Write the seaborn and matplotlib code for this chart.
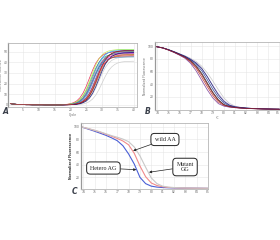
import matplotlib
matplotlib.use("Agg")
import matplotlib.pyplot as plt
import seaborn as sns
import numpy as np

sns.set_theme(style="whitegrid")
plt.rcParams['font.family'] = ['DejaVu Sans']

# ---------------- Panel A: amplification curves ----------------
cycles_base = list(range(1, 18))
baseline = [1.2, 0.8, 0.5, 0.4, 0.3, 0.2, 0.2, 0.1, 0.1, 0.1, 0.1, 0.0, 0.0, 0.0, 0.0, 0.0, 0.0]
cycles_rise = list(range(18, 41))
amp_curves = [
    [0.3, 0.6, 1.2, 2.1, 3.8, 6.7, 11.2, 17.5, 25.0, 32.6, 38.9, 43.4, 46.2, 47.9, 48.9, 49.4, 49.7, 49.8, 49.9, 50.0, 50.0, 50.0, 50.0],
    [0.2, 0.4, 0.8, 1.5, 2.7, 4.8, 8.3, 13.5, 20.3, 27.7, 34.5, 39.7, 43.2, 45.3, 46.5, 47.2, 47.6, 47.8, 47.9, 47.9, 48.0, 48.0, 48.0],
    [0.2, 0.3, 0.6, 1.2, 2.1, 3.9, 6.8, 11.4, 17.8, 25.5, 33.2, 39.6, 44.2, 47.1, 48.9, 49.8, 50.4, 50.6, 50.8, 50.9, 50.9, 51.0, 51.0],
    [0.2, 0.3, 0.6, 1.1, 2.0, 3.6, 6.3, 10.5, 16.4, 23.5, 30.6, 36.5, 40.7, 43.4, 45.0, 45.9, 46.4, 46.7, 46.8, 46.9, 47.0, 47.0, 47.0],
    [0.1, 0.2, 0.4, 0.8, 1.5, 2.8, 4.9, 8.5, 13.8, 20.7, 28.3, 35.2, 40.5, 44.1, 46.2, 47.5, 48.2, 48.6, 48.8, 48.9, 48.9, 49.0, 49.0],
    [0.1, 0.3, 0.5, 0.9, 1.6, 2.9, 5.2, 9.0, 14.6, 22.0, 30.0, 37.4, 43.0, 46.8, 49.1, 50.4, 51.1, 51.5, 51.7, 51.9, 51.9, 52.0, 52.0],
    [0.1, 0.2, 0.3, 0.6, 1.1, 2.0, 3.6, 6.4, 10.7, 16.8, 24.0, 31.2, 37.3, 41.6, 44.4, 46.0, 46.9, 47.4, 47.7, 47.8, 47.9, 48.0, 48.0],
    [0.1, 0.2, 0.3, 0.6, 1.2, 2.1, 3.8, 6.7, 11.2, 17.5, 25.0, 32.6, 38.9, 43.4, 46.2, 47.9, 48.9, 49.4, 49.7, 49.8, 49.9, 50.0, 50.0],
    [0.1, 0.1, 0.2, 0.4, 0.8, 1.5, 2.7, 4.7, 8.1, 13.2, 19.9, 27.1, 33.8, 38.9, 42.3, 44.3, 45.5, 46.2, 46.6, 46.8, 46.9, 46.9, 47.0],
    [0.1, 0.1, 0.2, 0.5, 0.9, 1.6, 2.9, 5.1, 8.8, 14.4, 21.5, 29.5, 36.6, 42.2, 45.9, 48.1, 49.4, 50.1, 50.5, 50.8, 50.9, 50.9, 50.9],
    [0.0, 0.1, 0.2, 0.3, 0.6, 1.1, 2.1, 3.7, 6.5, 10.9, 17.1, 24.5, 31.9, 38.1, 42.5, 45.3, 46.9, 47.9, 48.4, 48.7, 48.8, 48.9, 49.0],
    [0.3, 0.5, 0.9, 1.6, 2.9, 5.2, 9.0, 14.6, 22.0, 30.0, 37.4, 43.0, 46.8, 49.1, 50.4, 51.1, 51.5, 51.7, 51.9, 51.9, 52.0, 52.0, 52.0],
    [0.2, 0.3, 0.6, 1.0, 1.9, 3.4, 6.0, 10.0, 15.7, 22.5, 29.3, 35.0, 39.0, 41.6, 43.1, 44.0, 44.5, 44.7, 44.8, 44.9, 45.0, 45.0, 45.0],
    [0.1, 0.2, 0.3, 0.6, 1.1, 1.9, 3.5, 6.1, 10.3, 16.1, 23.0, 29.9, 35.7, 39.9, 42.5, 44.1, 44.9, 45.4, 45.7, 45.8, 45.9, 46.0, 46.0],
]
amp_colors = ["#e6194b", "#3cb44b", "#4363d8", "#f58231", "#911eb4", "#42d4f4",
              "#f032e6", "#469990", "#9a6324", "#800000", "#000075", "#bfef45",
              "#1f77b4", "#d62728"]
amp_grey = [
    [0.0, 0.1, 0.2, 0.3, 0.6, 1.0, 1.9, 3.4, 6.0, 10.0, 15.7, 22.5, 29.3, 35.0, 39.0, 41.6, 43.1, 44.0, 44.5, 44.7, 44.8, 44.9, 45.0],
    [0.0, 0.0, 0.1, 0.1, 0.3, 0.5, 0.9, 1.7, 3.1, 5.5, 9.1, 14.3, 20.5, 26.7, 31.9, 35.5, 37.9, 39.3, 40.1, 40.5, 40.7, 40.8, 40.9],
]
a_xticks = [5, 10, 15, 20, 25, 30, 35, 40]
a_yticks = [0, 10, 20, 30, 40, 50]

# ---------------- Panel B: normalized melting curves ----------------
temps = [73.8, 74.5, 75.0, 75.5, 76.0, 76.5, 77.0, 77.5, 78.0, 78.5, 79.0, 79.5,
         80.0, 80.5, 81.0, 81.5, 82.0, 82.5, 83.0, 83.5, 84.0, 84.5, 85.0]
melt_curves = [
    [100, 97.5, 94.5, 91, 87, 83, 77.5, 69, 57, 42, 27, 15, 7.5, 4.5, 3, 2.2, 1.6, 1.2, 0.9, 0.6, 0.4, 0.2, 0.1],
    [100, 97.4, 94.3, 90.7, 86.5, 82, 75, 65, 51, 36, 22, 11.5, 6, 3.8, 2.7, 2, 1.5, 1.1, 0.8, 0.5, 0.3, 0.2, 0.1],
    [100, 97.6, 94.7, 91.3, 87.5, 83.5, 78.5, 71.5, 61.5, 47, 32, 19, 10, 5.5, 3.5, 2.5, 1.8, 1.3, 1, 0.7, 0.4, 0.2, 0.1],
    [100, 97.7, 94.9, 91.6, 88, 84.3, 79.5, 73.5, 65, 52, 37, 23, 12.5, 6.5, 4, 2.8, 2, 1.4, 1.1, 0.8, 0.5, 0.3, 0.1],
    [100, 97.3, 94.1, 90.3, 86, 81, 73, 61, 46, 31, 18, 9, 5, 3.4, 2.5, 1.9, 1.4, 1, 0.7, 0.5, 0.3, 0.2, 0.1],
    [100, 97.5, 94.4, 90.9, 86.8, 82.6, 76.5, 67.5, 55, 40, 25.5, 14, 7, 4.3, 2.9, 2.1, 1.5, 1.1, 0.8, 0.6, 0.4, 0.2, 0.1],
]
melt_colors = ["#222222", "#c0392b", "#2c3e9e", "#1a1a6e", "#7d3c98", "#8b1a1a"]
melt_outliers = [
    [100, 97.8, 95, 92, 88.5, 85, 81, 76, 68.5, 58, 45, 31, 18, 9.5, 5, 3.2, 2.2, 1.6, 1.2, 0.9, 0.6, 0.3, 0.1],
    [100, 97.6, 94.8, 91.5, 88, 84.5, 80, 74, 64.5, 52, 38, 25, 14, 7.5, 4.5, 3, 2.1, 1.5, 1.1, 0.8, 0.5, 0.3, 0.1],
]
melt_out_colors = ["#c8c8c8", "#c9b8e8"]
t_ticks = [74, 75, 76, 77, 78, 79, 80, 81, 82, 83, 84, 85]
b_yticks = [20, 40, 60, 80, 100]

# ---------------- Panel C: genotype melting curves ----------------
geno_names = ["Hetero AG", "wild AA", "Mutant GG"]
geno_colors = ["#4a5fd6", "#f08a8a", "#c8c8c8"]
geno_curves = [
    [100, 96, 93, 89.8, 86.5, 82.5, 78, 70, 57, 41, 20, 10, 6, 4.5, 3.8, 3.4, 3.2, 3.0, 2.9, 2.8, 2.7, 2.6, 2.5],
    [100, 96.8, 94.3, 91.5, 88.3, 85, 81.5, 77.5, 71.5, 58, 38, 21, 11, 7, 5, 4, 3.5, 3.2, 3.0, 2.8, 2.7, 2.6, 2.5],
    [100, 97, 94.5, 92, 89, 86, 83.5, 80.5, 76.5, 68, 54, 36, 19, 10, 6, 4.5, 3.8, 3.4, 3.2, 3.0, 2.9, 2.8, 2.7],
]

fig = plt.figure(figsize=(2.8, 2.4), dpi=100)
fig.patch.set_facecolor("white")

tick_fs = 2.2
grid_c = "#e6e6e6"
spine_c = "#b5b5b5"


def style_axes(ax):
    ax.set_facecolor("white")
    ax.grid(True, color=grid_c, lw=0.4)
    for s in ax.spines.values():
        s.set_color(spine_c)
        s.set_linewidth(0.6)
    ax.spines["left"].set_color("#999999")
    ax.spines["left"].set_linewidth(0.9)
    ax.tick_params(axis="both", labelsize=tick_fs, colors="#666666", length=0, pad=0.8)


# Panel A
axA = fig.add_axes([0.03, 0.554, 0.459, 0.267])
style_axes(axA)
for g in amp_grey:
    sns.lineplot(x=cycles_base + cycles_rise, y=baseline + g, ax=axA, color="#cfcfcf",
                 lw=0.5, estimator=None)
for vals, c in zip(amp_curves, amp_colors):
    sns.lineplot(x=cycles_base + cycles_rise, y=baseline + vals, ax=axA, color=c,
                 lw=0.5, estimator=None, alpha=0.9)
axA.set_xlim(0.4, 41)
axA.set_ylim(-2, 58)
axA.set_xticks(a_xticks)
axA.set_yticks(a_yticks)
axA.set_xlabel("Cycle", fontsize=2.2, labelpad=0.5, color="#666666")
axA.set_ylabel("Fluorescence (465-510)", fontsize=2.0, labelpad=0.3, color="#666666")

# Panel B
axB = fig.add_axes([0.554, 0.542, 0.446, 0.283])
style_axes(axB)
for vals, c in zip(melt_outliers, melt_out_colors):
    sns.lineplot(x=temps, y=vals, ax=axB, color=c, lw=0.5, estimator=None)
for vals, c in zip(melt_curves, melt_colors):
    sns.lineplot(x=temps, y=vals, ax=axB, color=c, lw=0.55, estimator=None, alpha=0.9)
axB.set_xlim(73.8, 85.05)
axB.set_ylim(-1, 107)
axB.set_xticks(t_ticks)
axB.set_yticks(b_yticks)
axB.get_xticklabels()[-1].set_horizontalalignment("right")
axB.set_xlabel("°C", fontsize=2.2, labelpad=0.5, color="#666666")
axB.set_ylabel("Normalized Fluorescence", fontsize=2.2, labelpad=0.5, color="#666666")

# Panel C
axC = fig.add_axes([0.289, 0.2125, 0.454, 0.275])
style_axes(axC)
for name, vals, c in zip(geno_names, geno_curves, geno_colors):
    sns.lineplot(x=temps, y=vals, ax=axC, color=c, lw=0.8, estimator=None)
axC.set_xlim(73.8, 85.0)
axC.set_ylim(1.5, 106)
axC.set_xticks(t_ticks)
axC.set_yticks(b_yticks)
axC.set_ylabel("Normalized Fluorescence", fontsize=2.3, labelpad=0.5,
               color="#333333", fontweight="bold")

box = dict(boxstyle="round,pad=0.6", fc="white", ec="#222222", lw=0.7)
arrow = dict(arrowstyle="-|>", color="#222222", lw=0.5, mutation_scale=3.5,
             shrinkA=0, shrinkB=0)
axC.annotate("wild AA", xy=(78.4, 62), xytext=(0.661, 0.75), textcoords="axes fraction",
             fontsize=4.3, family="Liberation Serif", ha="center", va="center",
             bbox=box, arrowprops=arrow)
axC.annotate("Mutant\nGG", xy=(79.8, 28), xytext=(0.819, 0.333), textcoords="axes fraction",
             fontsize=4.3, family="Liberation Serif", ha="center", va="center",
             linespacing=1.1, bbox=box, arrowprops=arrow)
axC.annotate("Hetero AG", xy=(78.68, 32), xytext=(0.177, 0.318), textcoords="axes fraction",
             fontsize=4.3, family="Liberation Serif", ha="center", va="center",
             bbox=box, arrowprops=arrow)

# Panel letters
for lbl, (x, y) in {"A": (2, 111), "B": (145, 112), "C": (72, 192)}.items():
    fig.text(x / 280, 1 - y / 240, lbl, fontsize=5.5, style="italic", fontweight="bold",
             color="#3a3f4a", ha="left", va="center")

fig.savefig("out.png", dpi=100, facecolor="white")
